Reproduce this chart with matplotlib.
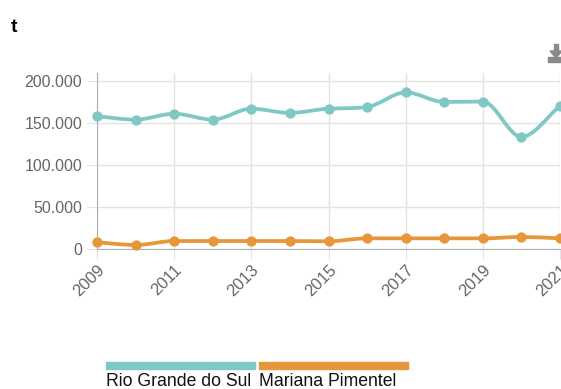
import numpy as np
import matplotlib
matplotlib.use("Agg")
import matplotlib.pyplot as plt
from matplotlib.path import Path
from matplotlib.patches import PathPatch, Rectangle, Polygon
from matplotlib.ticker import FuncFormatter

plt.rcParams['font.family'] = ['Liberation Sans', 'DejaVu Sans']

years = [2009, 2010, 2011, 2012, 2013, 2014, 2015, 2016, 2017, 2018, 2019, 2020, 2021]
rio_grande_do_sul = [158000, 154000, 161000, 154000, 167000, 162000, 167000,
                     169000, 186500, 175000, 175500, 133500, 170300]
mariana_pimentel = [8000, 4800, 9500, 9500, 9500, 9500, 9200,
                    12700, 12700, 12700, 12700, 14300, 12700]
series_names = ["Rio Grande do Sul", "Mariana Pimentel"]
colors = ["#7fc8c4", "#e8963a"]
y_ticks = [0, 50000, 100000, 150000, 200000]
x_ticks = [2009, 2011, 2013, 2015, 2017, 2019, 2021]
title = "t"

W, H = 561, 389
fig = plt.figure(figsize=(W / 100, H / 100), dpi=100)
ax = fig.add_axes([97 / W, 1 - 249 / H, (560 - 97) / W, (249 - 73) / H])

ax.set_xlim(2009, 2021)
ax.set_ylim(0, 209500)
ax.set_yticks(y_ticks)
ax.set_xticks(x_ticks)
ax.yaxis.set_major_formatter(FuncFormatter(lambda v, p: f"{int(v):,}".replace(",", ".")))
ax.grid(True, color="#e3e3e3", linewidth=1)
ax.set_axisbelow(True)
for s in ["top", "right"]:
    ax.spines[s].set_visible(False)
ax.spines["left"].set_color("#b0b0b0")
ax.spines["bottom"].set_color("#b0b0b0")
ax.tick_params(axis="both", length=7.2, color="#e3e3e3", labelcolor="#666666")
ax.tick_params(axis="y", pad=3.5, labelsize=11.5)
ax.tick_params(axis="x", pad=2, labelsize=12)
for lab in ax.get_xticklabels():
    lab.set_rotation(45)
    lab.set_ha("right")
    lab.set_rotation_mode("anchor")


def monotone_path(xs, ys):
    """Monotone cubic (Fritsch-Carlson) curve through the points as a Bezier path."""
    pts = ax.transData.transform(np.column_stack([xs, ys]))
    n = len(pts)
    px, py = pts[:, 0], pts[:, 1]
    dx = np.diff(px)
    delta = np.diff(py) / dx
    m = np.zeros(n)
    m[0], m[-1] = delta[0], delta[-1]
    for i in range(1, n - 1):
        m[i] = 0 if delta[i - 1] * delta[i] <= 0 else (delta[i - 1] + delta[i]) / 2
    for i in range(n - 1):
        if delta[i] == 0:
            m[i] = m[i + 1] = 0
            continue
        a, b = m[i] / delta[i], m[i + 1] / delta[i]
        s = a * a + b * b
        if s > 9:
            t = 3 / np.sqrt(s)
            m[i], m[i + 1] = t * a * delta[i], t * b * delta[i]
    verts = [pts[0]]
    codes = [Path.MOVETO]
    for i in range(n - 1):
        h = dx[i] / 3
        verts += [(px[i] + h, py[i] + m[i] * h),
                  (px[i + 1] - h, py[i + 1] - m[i + 1] * h),
                  pts[i + 1]]
        codes += [Path.CURVE4] * 3
    inv = ax.transData.inverted()
    return Path(inv.transform(np.array(verts, dtype=float)), codes)


for vals, c in zip([rio_grande_do_sul, mariana_pimentel], colors):
    patch = PathPatch(monotone_path(years, vals), facecolor="none", edgecolor=c,
                      linewidth=2.7, capstyle="round", joinstyle="round", zorder=3)
    ax.add_patch(patch)
    ax.plot(years, vals, linestyle="none", marker="o", markersize=6.4,
            color=c, zorder=4, clip_on=False)

# title
fig.text(11 / W, 1 - 27 / H, title, fontsize=14, fontweight="bold", va="center", ha="left")

# download icon
gray = "#8a8a8a"
fig.patches.append(Rectangle((548 / W, 1 - 62 / H), 15 / W, 5 / H,
                             transform=fig.transFigure, color=gray))
fig.patches.append(Polygon([[550 / W, 1 - 51 / H], [562 / W, 1 - 51 / H],
                            [556 / W, 1 - 58 / H]], closed=True,
                           transform=fig.transFigure, color=gray))
fig.patches.append(Rectangle((554 / W, 1 - 52 / H), 4 / W, 8 / H,
                             transform=fig.transFigure, color=gray))

# legend bars with labels underneath
legend_x = [106, 259]
legend_w = 149
for name, c, lx in zip(series_names, colors, legend_x):
    fig.patches.append(Rectangle((lx / W, 1 - 369 / H), legend_w / W, 7 / H,
                                 transform=fig.transFigure, color=c))
    fig.text(lx / W, 1 - 381.5 / H, name, fontsize=12.7, color="#111111",
             ha="left", va="center")

fig.savefig("out.png", dpi=100)
